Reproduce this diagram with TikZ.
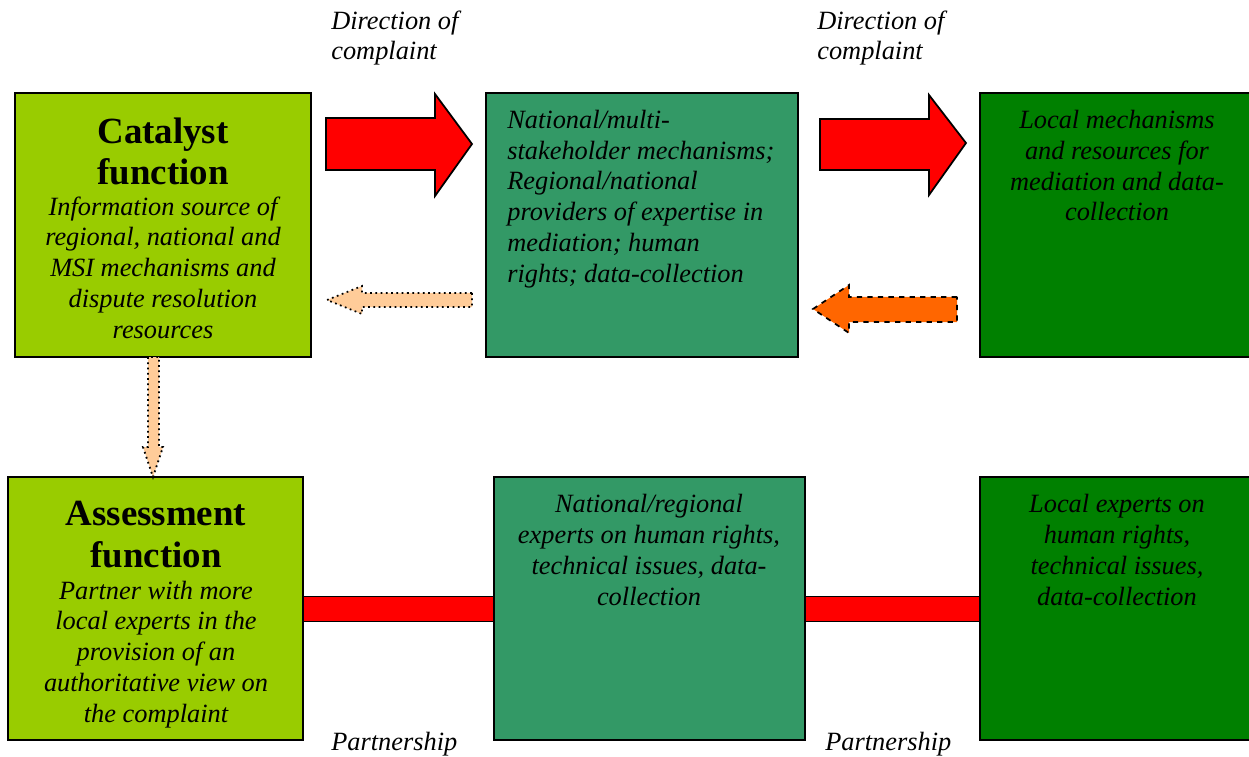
\documentclass[tikz,border=0pt]{standalone}
\usepackage{fontspec}
\setmainfont{Liberation Serif}
\usepackage{xcolor}
\usetikzlibrary{positioning}
\definecolor{catgreen}{HTML}{99CC00}
\definecolor{midgreen}{HTML}{339966}
\definecolor{darkgreen}{HTML}{008000}
\definecolor{peach}{HTML}{FFCC99}
\definecolor{orangeish}{HTML}{FF6600}
\begin{document}
\begin{tikzpicture}[x=0.02cm,y=-0.02cm,
		box/.style = {rectangle,draw,line width=1pt,inner sep=0pt},
		title/.style = {font=\fontsize{21}{23.8}\selectfont\bfseries,align=center,anchor=base,inner sep=0pt},
		desc/.style = {font=\fontsize{15}{17.5}\selectfont\itshape,align=center,anchor=base,inner sep=0pt},
		note/.style = {font=\fontsize{15}{17.5}\selectfont\itshape,align=left,anchor=base west,inner sep=0pt},
		fatarrow/.style = {draw,line width=1pt,line join=miter,fill=red},
		bar/.style = {draw,line width=1pt,fill=red}]
	\useasboundingbox (0,0) rectangle (1249,757);
	\draw[bar] ([yshift=-0.25cm]303,609) rectangle ([yshift=0.25cm]494,609);
	\draw[bar] ([yshift=-0.25cm]805,609) rectangle ([yshift=0.25cm]980,609);
	\node[box,fill=catgreen,minimum width=5.92cm,minimum height=5.28cm] at (163,225) (cat) {};
	\node[box,fill=midgreen,minimum width=6.24cm,minimum height=5.28cm] at (642,225) (natmech) {};
	\node[box,fill=darkgreen,minimum width=5.6cm,minimum height=5.28cm] at (1120,225) (locmech) {};
	\node[box,fill=catgreen,minimum width=5.9cm,minimum height=5.26cm] at (155.5,608.5) (assess) {};
	\node[box,fill=midgreen,minimum width=6.22cm,minimum height=5.26cm] at (649.5,608.5) (natexp) {};
	\node[box,fill=darkgreen,minimum width=5.6cm,minimum height=5.26cm] at (1120,608.5) (locexp) {};
	\node[title] at (163,185) (cattitle) {Catalyst\\function};
	\node[desc] at (163,338) (cattext) {Information source of\\regional, national and\\MSI mechanisms and\\dispute resolution\\resources};
	\node[note] at (507,282) (natmechtext) {National/multi-\\stakeholder mechanisms;\\Regional/national\\providers of expertise in\\mediation; human\\rights; data-collection};
	\node[desc] at (1117,221) (locmechtext) {Local mechanisms\\and resources for\\mediation and data-\\collection};
	\node[title] at (156,567) (asstitle) {Assessment\\function};
	\node[desc] at (156,722) (asstext) {Partner with more\\local experts in the\\provision of an\\authoritative view on\\the complaint};
	\node[desc] at (649,605) (natexptext) {National/regional\\experts on human rights,\\technical issues, data-\\collection};
	\node[desc] at (1117,605) (locexptext) {Local experts on\\human rights,\\technical issues,\\data-collection};
	\node[note] at (331,60) (dir1) {Direction of\\complaint};
	\node[note] at (817,60) (dir2) {Direction of\\complaint};
	\node[note] at (331,750) (part1) {Partnership};
	\node[note] at (825,750) (part2) {Partnership};
	\draw[fatarrow] (326,118) -- (435,118) -- (435,94) -- (472,144) -- (435,196) -- (435,170) -- (326,170) -- cycle;
	\draw[fatarrow] (820,119) -- (929,119) -- (929,95) -- (966,143) -- (929,195) -- (929,170) -- (820,170) -- cycle;
	\draw[fatarrow,fill=peach,dotted] (472,293) -- (362,293) -- (362,286) -- (327,300) -- (362,314) -- (362,307) -- (472,307) -- cycle;
	\draw[fatarrow,fill=orangeish,dashed] (957,297) -- (849,297) -- (849,285) -- (813,309) -- (849,333) -- (849,322) -- (957,322) -- cycle;
	\draw[fatarrow,fill=peach,dotted] (148,357) -- (148,447) -- (143,447) -- (153,477) -- (163,447) -- (159,447) -- (159,357) -- cycle;
\end{tikzpicture}
\end{document}
